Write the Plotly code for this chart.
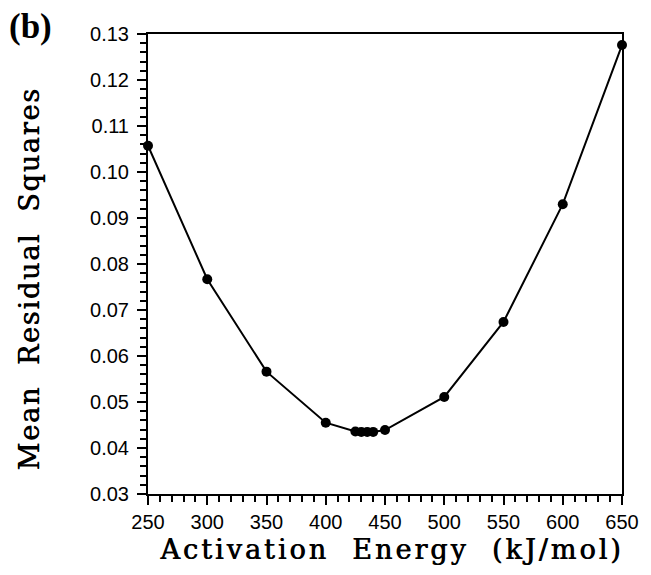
import plotly.graph_objects as go

# Activation energy scan (kJ/mol) and the mean residual squares of each fit
energy = [250, 300, 350, 400, 425, 430, 435, 440, 450, 500, 550, 600, 650]
mean_residual_sq = [0.1057, 0.0767, 0.0566, 0.0455, 0.0436, 0.0435, 0.0435, 0.0435,
                    0.0439, 0.0511, 0.0674, 0.0930, 0.1276]

x_ticks = [250, 300, 350, 400, 450, 500, 550, 600, 650]
y_ticks = [0.03, 0.04, 0.05, 0.06, 0.07, 0.08, 0.09, 0.10, 0.11, 0.12, 0.13]

SP = " \u00a0"

fig = go.Figure()
fig.add_trace(go.Scatter(
    x=energy, y=mean_residual_sq, mode="lines+markers",
    line=dict(color="black", width=2),
    marker=dict(color="black", size=10),
    cliponaxis=False, showlegend=False,
))

axis_common = dict(
    showline=True, linecolor="black", linewidth=2, mirror=True,
    showgrid=False, zeroline=False,
    ticks="outside", ticklen=9, tickwidth=2, tickcolor="black",
    tickfont=dict(family="Liberation Sans, Arial, sans-serif", size=20, color="black"),
)

# Serif titles, slightly thickened with a tight shadow
title_font = dict(family="DejaVu Serif, serif", size=27, color="black",
                  shadow="0.7px 0px 0px black")

fig.update_layout(
    width=651, height=575,
    margin=dict(l=148, r=18, t=34, b=81),
    paper_bgcolor="white", plot_bgcolor="white",
    xaxis=dict(
        range=[250, 650], tickvals=x_ticks, ticktext=[str(v) for v in x_ticks],
        minor=dict(dtick=10, tick0=250, ticks="outside", ticklen=6, tickwidth=1.5,
                   tickcolor="black", showgrid=False),
        title=dict(text=f"Activation{SP}Energy{SP}(kJ/mol)", font=title_font, standoff=8),
        **axis_common,
    ),
    yaxis=dict(
        range=[0.03, 0.13], tickvals=y_ticks, ticktext=[f"{v:.2f}" for v in y_ticks],
        minor=dict(dtick=0.002, tick0=0.03, ticks="outside", ticklen=6, tickwidth=1.5,
                   tickcolor="black", showgrid=False),
        ticklabelstandoff=4,
        **axis_common,
    ),
    annotations=[
        dict(text=f"Mean{SP}Residual{SP}Squares", textangle=-90,
             xref="paper", yref="paper", x=-0.249, y=0.468,
             xanchor="center", yanchor="middle", showarrow=False, font=title_font),
        dict(text="<b>(b)</b>", xref="paper", yref="paper", x=-0.298, y=1.062,
             xanchor="left", yanchor="top", showarrow=False,
             font=dict(family="Liberation Serif, Times New Roman, serif", size=35,
                       color="black")),
    ],
)

# Widen the letter spacing of the two axis titles once the plot is drawn
spacing_js = """
var gd = document.getElementById('{plot_id}');
function spaceTitles() {
  gd.querySelectorAll('.g-xtitle text').forEach(function (t) {
    t.style.letterSpacing = '3px';
    t.setAttribute('dx', '7');
  });
  gd.querySelectorAll('.annotation-text-g text').forEach(function (t) {
    if (t.textContent.indexOf('Mean') === 0) { t.style.letterSpacing = '1.8px'; }
  });
}
spaceTitles();
gd.on('plotly_afterplot', spaceTitles);
"""

fig.write_html("out.html", post_script=spacing_js)
